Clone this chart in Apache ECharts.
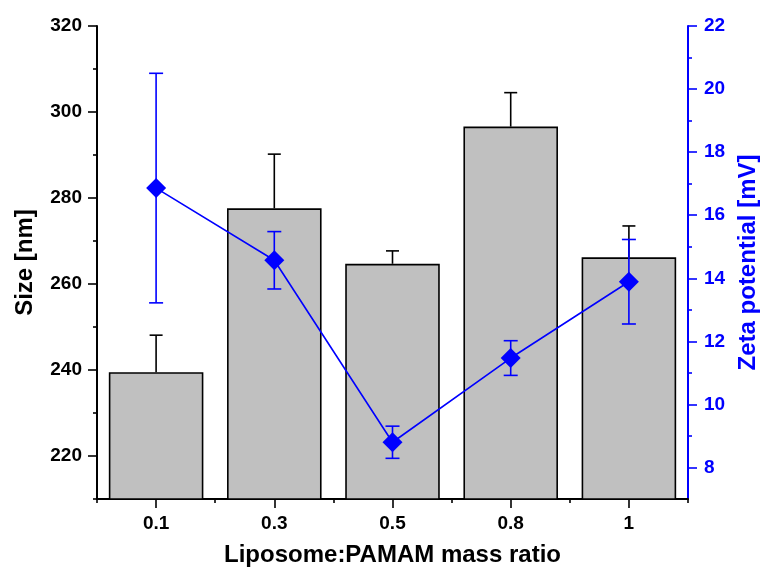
<!DOCTYPE html>
<html>
<head>
<meta charset="utf-8">
<title>Size and zeta potential vs. liposome:PAMAM mass ratio</title>
<script src="https://cdn.jsdelivr.net/npm/echarts@6/dist/echarts.min.js"></script>
<style>
  html, body { margin: 0; padding: 0; background: #fff; }
  #chart { width: 760px; height: 570px; }
</style>
</head>
<body>
<div id="chart"></div>
<script>
// Liposome:PAMAM mass ratios
const categories = ['0.1', '0.3', '0.5', '0.8', '1'];

// Particle size (nm), mean and standard deviation
const sizeMean = [239.5, 277.6, 264.7, 296.6, 266.2];
const sizeErr = [8.6, 12.6, 3.0, 7.9, 7.3];

// Zeta potential (mV), mean and standard deviation
const zetaMean = [16.86, 14.57, 8.80, 11.47, 13.89];
const zetaErr = [3.64, 0.91, 0.51, 0.55, 1.34];

// Axis ticks
const sizeMajorTicks = [220, 240, 260, 280, 300, 320];
const sizeMinorTicks = [210, 230, 250, 270, 290, 310];
const zetaMajorTicks = [8, 10, 12, 14, 16, 18, 20, 22];
const zetaMinorTicks = [9, 11, 13, 15, 17, 19, 21];

const FONT = "'Liberation Sans', Arial, Helvetica, sans-serif";
const BLUE = '#0000ff';

const sizeErrData = sizeMean.map((m, i) => [i, m, sizeErr[i]]);
const zetaErrData = zetaMean.map((m, i) => [i, m, zetaErr[i]]);

// Error bar drawer: upper whisker only (bars) or both whiskers (points)
function errorBars(color, capHalf, upperOnly) {
  return function (params, api) {
    const x = api.value(0);
    const m = api.value(1);
    const e = api.value(2);
    const top = api.coord([x, m + e]);
    const mid = api.coord([x, m]);
    const bot = upperOnly ? mid : api.coord([x, m - e]);
    const style = { stroke: color, lineWidth: 1.6 };
    const children = [
      { type: 'line', shape: { x1: top[0], y1: top[1], x2: bot[0], y2: bot[1] }, style },
      { type: 'line', shape: { x1: top[0] - capHalf, y1: top[1], x2: top[0] + capHalf, y2: top[1] }, style }
    ];
    if (!upperOnly) {
      children.push({ type: 'line', shape: { x1: bot[0] - capHalf, y1: bot[1], x2: bot[0] + capHalf, y2: bot[1] }, style });
    }
    return { type: 'group', children };
  };
}

const chart = echarts.init(document.getElementById('chart'), null, { renderer: 'canvas' });

chart.setOption({
  animation: false,
  backgroundColor: '#ffffff',
  textStyle: { fontFamily: FONT },
  grid: { left: 97, right: 72, top: 26, bottom: 71, containLabel: false, outerBoundsMode: 'none' },
  xAxis: [
    {
      type: 'category',
      data: categories,
      boundaryGap: true,
      name: 'Liposome:PAMAM mass ratio',
      nameLocation: 'middle',
      nameGap: 44,
      nameTextStyle: { color: '#000', fontSize: 24, fontWeight: 'bold', fontFamily: FONT },
      axisLine: { show: true, lineStyle: { color: '#000', width: 2 } },
      axisTick: { show: true, alignWithLabel: true, inside: false, length: 9, lineStyle: { color: '#000', width: 1.6 } },
      axisLabel: { color: '#000', fontSize: 19, fontWeight: 'bold', fontFamily: FONT, margin: 15 },
      splitLine: { show: false }
    },
    {
      // boundary (minor) ticks between categories
      type: 'category',
      data: categories,
      boundaryGap: true,
      position: 'bottom',
      axisLine: { show: false },
      axisTick: { show: true, alignWithLabel: false, length: 4, lineStyle: { color: '#000', width: 1.6 } },
      axisLabel: { show: false },
      splitLine: { show: false }
    }
  ],
  yAxis: [
    {
      type: 'value',
      position: 'left',
      min: 210,
      max: 320,
      interval: 10,
      name: 'Size [nm]',
      nameLocation: 'middle',
      nameGap: 60,
      nameTextStyle: { color: '#000', fontSize: 24, fontWeight: 'bold', fontFamily: FONT },
      axisLine: { show: true, lineStyle: { color: '#000', width: 2 } },
      axisTick: { show: true, customValues: sizeMajorTicks, length: 9, lineStyle: { color: '#000', width: 1.6 } },
      axisLabel: { customValues: sizeMajorTicks, color: '#000', fontSize: 19, fontWeight: 'bold', fontFamily: FONT, margin: 15 },
      splitLine: { show: false }
    },
    {
      type: 'value',
      position: 'right',
      min: 7,
      max: 22,
      interval: 1,
      name: 'Zeta potential [mV]',
      nameLocation: 'middle',
      nameGap: 48,
      nameRotate: 90,
      nameTextStyle: { color: BLUE, fontSize: 24, fontWeight: 'bold', fontFamily: FONT },
      axisLine: { show: true, lineStyle: { color: BLUE, width: 2 } },
      axisTick: { show: true, customValues: zetaMajorTicks, length: 9, lineStyle: { color: BLUE, width: 1.6 } },
      axisLabel: { customValues: zetaMajorTicks, color: BLUE, fontSize: 19, fontWeight: 'bold', fontFamily: FONT, margin: 16 },
      splitLine: { show: false }
    },
    {
      // minor ticks, size axis
      type: 'value',
      position: 'left',
      min: 210,
      max: 320,
      interval: 10,
      axisLine: { show: false },
      axisTick: { show: true, customValues: sizeMinorTicks, length: 4, lineStyle: { color: '#000', width: 1.6 } },
      axisLabel: { show: false },
      splitLine: { show: false }
    },
    {
      // minor ticks, zeta axis
      type: 'value',
      position: 'right',
      min: 7,
      max: 22,
      interval: 1,
      axisLine: { show: false },
      axisTick: { show: true, customValues: zetaMinorTicks, length: 4, lineStyle: { color: BLUE, width: 1.6 } },
      axisLabel: { show: false },
      splitLine: { show: false }
    }
  ],
  series: [
    {
      name: 'Size',
      type: 'bar',
      xAxisIndex: 0,
      yAxisIndex: 0,
      data: sizeMean,
      barWidth: '80%',
      itemStyle: { color: '#c0c0c0', borderColor: '#000', borderWidth: 1.6 },
      z: 2
    },
    {
      name: 'Size error',
      type: 'custom',
      xAxisIndex: 0,
      yAxisIndex: 0,
      data: sizeErrData,
      renderItem: errorBars('#000', 6.5, true),
      z: 3
    },
    {
      name: 'Zeta error',
      type: 'custom',
      xAxisIndex: 0,
      yAxisIndex: 1,
      data: zetaErrData,
      renderItem: errorBars(BLUE, 7, false),
      z: 4
    },
    {
      name: 'Zeta potential',
      type: 'line',
      xAxisIndex: 0,
      yAxisIndex: 1,
      data: zetaMean,
      symbol: 'diamond',
      symbolSize: 20,
      lineStyle: { color: BLUE, width: 1.6 },
      itemStyle: { color: BLUE },
      z: 5
    }
  ]
});
</script>
</body>
</html>
